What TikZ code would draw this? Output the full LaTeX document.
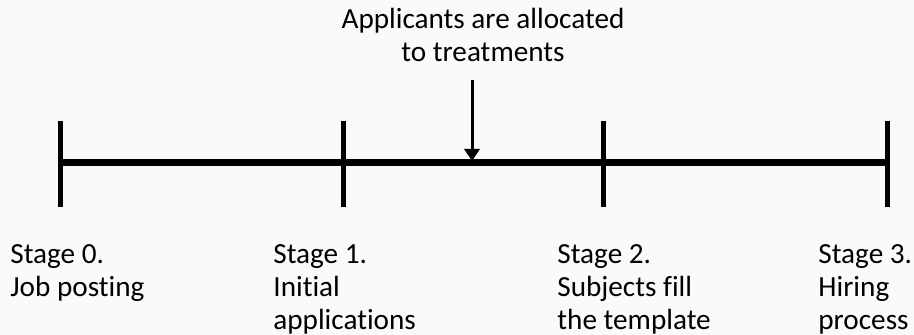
\documentclass[tikz,border=0pt]{standalone}
\usepackage{fontspec}
\setmainfont{Carlito}[RawFeature=-liga]
\usetikzlibrary{arrows.meta,positioning}
\definecolor{timelineink}{HTML}{000000}
\definecolor{timelinepaper}{HTML}{FAFAFA}
\tikzset{
  stagelabel/.style={anchor=base west,align=left,inner sep=0pt,text=timelineink,
    font=\fontsize{14.6}{16.5}\selectfont},
}
\begin{document}
\begin{tikzpicture}[x=.5pt,y=-.5pt]
    \useasboundingbox (0,0) rectangle (914,335);
    \fill[timelinepaper] (0,0) rectangle (914,335);
    % stage positions on the line
    \coordinate (s0) at (60,163);
    \coordinate (s1) at (343,163);
    \coordinate (s2) at (603,163);
    \coordinate (s3) at (887,163);
    \draw[timelineink,line width=3.5pt] (s0) -- (s3);
    \foreach \s in {s0,s1,s2,s3}{
      \draw[timelineink,line width=2.5pt]
        ([yshift=21pt]\s) -- ([yshift=-22pt]\s);
    }
    % allocation arrow
    \node[anchor=base,align=center,inner sep=0pt,text=timelineink,
      font=\fontsize{14.6}{16.5}\selectfont] (alloc) at (483,62)
      {Applicants are allocated\\to treatments};
    \coordinate (arrowtop) at (472,80);
    \coordinate (arrowtip) at (472,161);
    \draw[timelineink,line width=1.5pt,-{Triangle[width=7.5pt,length=6pt]}]
      (arrowtop) -- (arrowtip);
    % labels under the line (base = last line)
    \node[stagelabel] (l0) at (10,297) {Stage 0.\\Job posting};
    \node[stagelabel] (l1) at (273,330) {Stage 1.\\Initial\\applications};
    \node[stagelabel] (l2) at (557,330) {Stage 2.\\Subjects fill\\the template};
    \node[stagelabel] (l3) at (818,330) {Stage 3.\\Hiring\\process};
  \end{tikzpicture}
\end{document}
